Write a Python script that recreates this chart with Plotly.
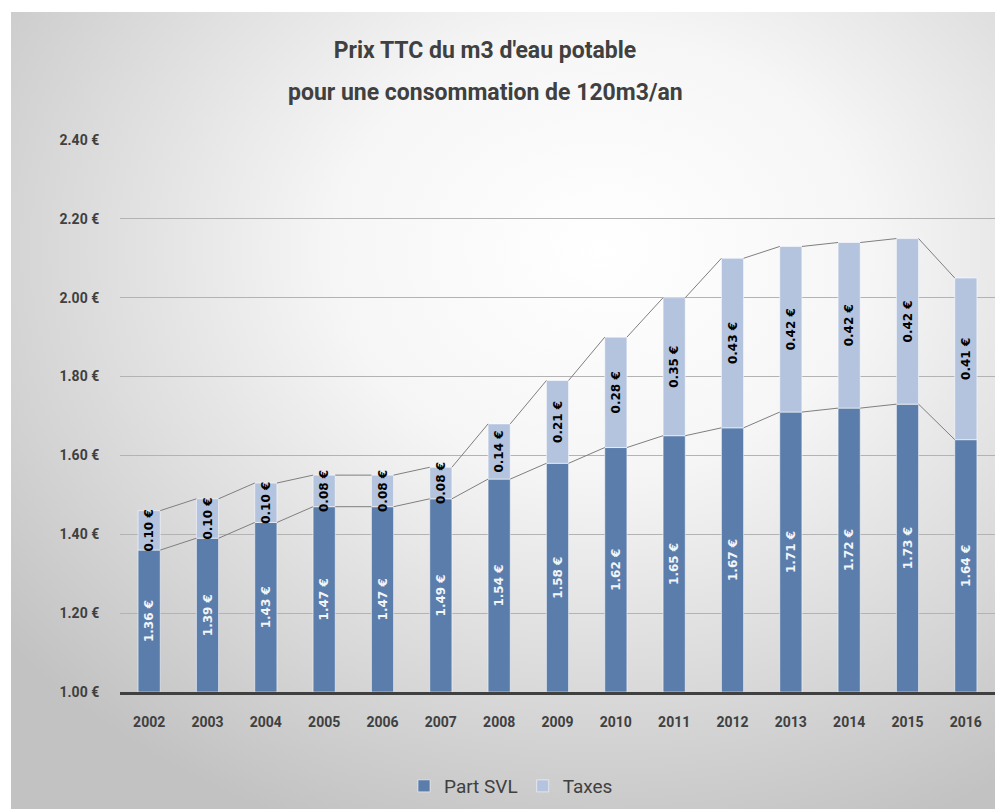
import base64

import plotly.graph_objects as go

years = [2002, 2003, 2004, 2005, 2006, 2007, 2008, 2009,
         2010, 2011, 2012, 2013, 2014, 2015, 2016]
part_svl = [1.36, 1.39, 1.43, 1.47, 1.47, 1.49, 1.54, 1.58,
            1.62, 1.65, 1.67, 1.71, 1.72, 1.73, 1.64]
taxes = [0.10, 0.10, 0.10, 0.08, 0.08, 0.08, 0.14, 0.21,
         0.28, 0.35, 0.43, 0.42, 0.42, 0.42, 0.41]
y_ticks = [1.00, 1.20, 1.40, 1.60, 1.80, 2.00, 2.20, 2.40]

Y0 = 1.0  # axis floor, bars start here like in the Excel original
DARK = "#5a7dab"
LIGHT = "#b4c4de"
TEXT = "#404040"
FONT = "Roboto, sans-serif"
BAR_W = 0.38


# Excel style series lines joining the tops of neighbouring bars
def series_lines(tops):
    xs, ys = [], []
    for i in range(len(years) - 1):
        xs += [years[i] + BAR_W / 2, years[i + 1] - BAR_W / 2, None]
        ys += [tops[i], tops[i + 1], None]
    return xs, ys


totals = [s + t for s, t in zip(part_svl, taxes)]
outline = dict(color="rgba(255,255,255,0.55)", width=1)

fig = go.Figure()

fig.add_trace(
    go.Bar(
        x=years,
        y=[s - Y0 for s in part_svl],
        base=Y0,
        width=BAR_W,
        name="Part SVL",
        marker=dict(color=DARK, line=outline),
        text=[f"{v:.2f} €" for v in part_svl],
        textposition="inside",
        insidetextanchor="middle",
        textangle=-90,
        constraintext="none",
        textfont=dict(family="DejaVu Sans", size=12, color="#f2f5fa", weight="bold"),
        hoverinfo="skip",
    )
)

fig.add_trace(
    go.Bar(
        x=years,
        y=taxes,
        base=part_svl,
        width=BAR_W,
        name="Taxes",
        marker=dict(color=LIGHT, line=outline),
        text=[f"{v:.2f} €" for v in taxes],
        textposition="inside",
        insidetextanchor="middle",
        textangle=-90,
        constraintext="none",
        textfont=dict(family="DejaVu Sans", size=12, color="#000000", weight="bold"),
        hoverinfo="skip",
    )
)

for tops in (part_svl, totals):
    lx, ly = series_lines(tops)
    fig.add_trace(
        go.Scatter(
            x=lx, y=ly, mode="lines", showlegend=False, hoverinfo="skip",
            line=dict(color="#7f7f7f", width=1),
        )
    )

svg = (
    "<svg xmlns='http://www.w3.org/2000/svg' width='984' height='797' "
    "preserveAspectRatio='none'><defs><radialGradient id='g' cx='0.6' cy='0.3' r='0.78'>"
    "<stop offset='0' stop-color='#ffffff'/><stop offset='0.35' stop-color='#f6f6f6'/>"
    "<stop offset='1' stop-color='#c2c2c2'/></radialGradient></defs>"
    "<rect width='984' height='797' fill='url(#g)'/></svg>"
)
bg_src = "data:image/svg+xml;base64," + base64.b64encode(svg.encode()).decode()

L, R, T, B = 120, 0, 140, 117
pw, ph = 995 - L - R, 809 - T - B

fig.update_layout(
    width=995,
    height=809,
    barmode="overlay",
    paper_bgcolor="white",
    plot_bgcolor="rgba(0,0,0,0)",
    margin=dict(l=L, r=R, t=T, b=B, pad=0),
    title=dict(
        text="Prix TTC du m3 d'eau potable",
        x=485 / 995, xanchor="center", y=1 - 50 / 809, yanchor="middle",
        font=dict(family=FONT, size=23, color=TEXT, weight="bold"),
    ),
    annotations=[
        dict(
            text="pour une consommation de 120m3/an",
            xref="paper", yref="paper",
            x=(485 - L) / pw, y=(692 - 93) / ph,
            xanchor="center", yanchor="middle", showarrow=False,
            font=dict(family=FONT, size=23, color=TEXT, weight="bold"),
        )
    ],
    images=[
        dict(
            source=bg_src, xref="paper", yref="paper",
            x=(11 - L) / pw, y=(692 - 12) / ph,
            sizex=(995 - 11) / pw, sizey=(809 - 12) / ph,
            xanchor="left", yanchor="top", sizing="stretch", layer="below",
        )
    ],
    xaxis=dict(
        range=[2001.5, 2016.5],
        tickvals=years,
        ticktext=[str(y) for y in years],
        showgrid=False,
        showline=True,
        linecolor="#404040",
        linewidth=3,
        ticks="outside",
        ticklen=15,
        tickcolor="rgba(0,0,0,0)",
        tickfont=dict(family=FONT, size=14, color=TEXT, weight="bold"),
        fixedrange=True,
    ),
    yaxis=dict(
        range=[Y0, 2.4],
        tickvals=y_ticks,
        ticktext=[f"{v:.2f} €" for v in y_ticks],
        showgrid=True,
        gridcolor="#b3b3b3",
        gridwidth=1,
        zeroline=False,
        showline=False,
        ticks="outside",
        ticklen=17,
        tickcolor="rgba(0,0,0,0)",
        tickfont=dict(family=FONT, size=14, color=TEXT, weight="bold"),
        fixedrange=True,
    ),
    legend=dict(
        orientation="h",
        traceorder="normal",
        x=(511 - L) / pw, xanchor="center",
        y=(692 - 786) / ph, yanchor="middle",
        font=dict(family=FONT, size=19, color=TEXT),
        bgcolor="rgba(0,0,0,0)",
    ),
    showlegend=True,
)

fig.write_html(
    "out.html",
    config={"displayModeBar": False},
    post_script="document.body.style.margin='0';",
)
